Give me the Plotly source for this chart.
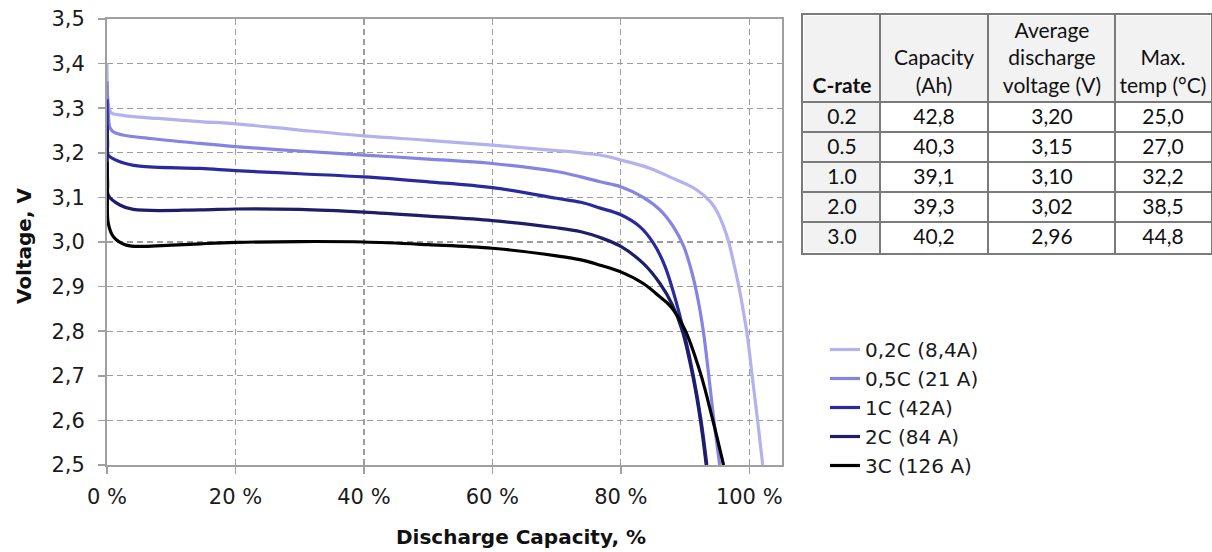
import numpy as np
import plotly.graph_objects as go

W, H = 1212, 552

# ---------------- curve data (discharge capacity %, voltage V) ----------------
x_02 = [0, 0.3, 0.7, 2, 4.1, 8, 14.5, 20, 30, 40, 50, 60, 70, 73.8, 76.8, 80, 84.6, 88.7, 90.3,
        91.9, 93.9, 95.0, 96.0, 96.8, 97.5, 98.2, 98.9, 99.7, 100.5, 101.3, 102.1]
v_02 = [3.40, 3.30, 3.289, 3.285, 3.281, 3.277, 3.270, 3.265, 3.251, 3.238, 3.228, 3.217, 3.205,
        3.200, 3.195, 3.184, 3.165, 3.139, 3.129, 3.116, 3.091, 3.068, 3.035, 3.000, 2.958,
        2.913, 2.86, 2.79, 2.695, 2.60, 2.50]

x_05 = [0, 0.2, 0.5, 1.2, 2.5, 6.7, 14.5, 20, 30, 40, 50, 60, 70, 73.8, 76.8, 80, 83.5, 86.1,
        88.2, 89.8, 91.1, 92.1, 92.9, 93.7, 94.5, 95.4]
v_05 = [3.36, 3.29, 3.255, 3.245, 3.240, 3.232, 3.221, 3.214, 3.204, 3.195, 3.186, 3.176, 3.158,
        3.146, 3.135, 3.124, 3.100, 3.072, 3.034, 2.990, 2.930, 2.865, 2.795, 2.700, 2.600, 2.500]

x_1 = [0, 0.1, 0.2, 2, 5.1, 14.5, 20, 30, 40, 50, 60, 70, 73.8, 76.8, 80, 83.0, 85.1, 86.9,
       88.5, 89.8, 91.3, 92.5, 93.4]
v_1 = [3.32, 3.22, 3.195, 3.180, 3.170, 3.165, 3.160, 3.153, 3.146, 3.135, 3.122, 3.098, 3.089,
       3.076, 3.061, 3.034, 2.997, 2.945, 2.872, 2.800, 2.700, 2.600, 2.500]

x_2 = [0, 0.1, 0.2, 2, 4.1, 14.5, 20, 30, 40, 50, 60, 70, 73.8, 76.8, 80, 83.5, 86.1, 88.0,
       89.6, 91.2, 92.4, 93.3]
v_2 = [3.26, 3.13, 3.105, 3.083, 3.073, 3.072, 3.074, 3.073, 3.067, 3.058, 3.048, 3.032, 3.023,
       3.010, 2.990, 2.952, 2.907, 2.860, 2.800, 2.700, 2.600, 2.500]

x_3 = [0, 0.05, 0.2, 1, 3, 5.7, 10, 14.5, 20, 30, 40, 50, 60, 70, 73.8, 76.8, 80, 83.5, 86.1,
       87.8, 90.0, 92.4, 94.2, 96.0]
v_3 = [3.18, 3.10, 3.042, 3.012, 2.993, 2.990, 2.993, 2.996, 2.999, 3.001, 3.000, 2.994, 2.986,
       2.969, 2.960, 2.948, 2.933, 2.907, 2.877, 2.855, 2.803, 2.706, 2.608, 2.500]

series_names = ["0,2C (8,4A)", "0,5C (21 A)", "1C (42A)", "2C (84 A)", "3C (126 A)"]
series_x = [x_02, x_05, x_1, x_2, x_3]
series_v = [v_02, v_05, v_1, v_2, v_3]
series_colors = ["#b2b2ef", "#8484e2", "#2a2a9c", "#1e1e68", "#000000"]

x_tickvals = [0, 20, 40, 60, 80, 100]
x_ticktext = ["0 %", "20 %", "40 %", "60 %", "80 %", "100 %"]

# ---------------- table data ----------------
table_header = ["<b>C-rate</b>", "Capacity<br>(Ah)", "Average<br>discharge<br>voltage (V)",
                "Max.<br>temp (°C)"]
c_rate = ["0.2", "0.5", "1.0", "2.0", "3.0"]
capacity = ["42,8", "40,3", "39,1", "39,3", "40,2"]
avg_voltage = ["3,20", "3,15", "3,10", "3,02", "2,96"]
max_temp = ["25,0", "27,0", "32,2", "38,5", "44,8"]

# table geometry (pixels)
col_widths = [77, 108, 127, 96]
row_heights = [86.5, 30.2, 30.2, 30.2, 30.2, 30.2]
col_edges = np.concatenate([[0], np.cumsum(col_widths)]).tolist()
row_edges = np.concatenate([[0], np.cumsum(row_heights)]).tolist()

NB = "\u00a0"
def pad_lines(s, n=3):
    k = s.count("<br>") + 1
    return "<br>".join([NB] * (n - k) + [s]) if k < n else s

rows_text = [[pad_lines(h) for h in table_header]]
rows_fill = [[1, 1, 1, 1]]
for a, b, c, d in zip(c_rate, capacity, avg_voltage, max_temp):
    rows_text.append([a, b, c, d])
    rows_fill.append([1, 0, 0, 0])

fig = go.Figure()

for name, xs, vs, col in zip(series_names, series_x, series_v, series_colors):
    fig.add_trace(go.Scatter(
        x=xs, y=vs, mode="lines", name=name,
        line=dict(color=col, width=3.2, shape="spline", smoothing=1.0),
        xaxis="x", yaxis="y", hoverinfo="skip"))

fig.add_trace(go.Heatmap(
    x=col_edges, y=row_edges, z=rows_fill, text=rows_text, texttemplate="%{text}",
    textfont=dict(family="Lato, Carlito, sans-serif", size=21, color="#111111"),
    colorscale=[[0, "#ffffff"], [1, "#f2f2f2"]], zmin=0, zmax=1, showscale=False,
    xgap=2, ygap=2, xaxis="x2", yaxis="y2", hoverinfo="skip"))

SANS = "DejaVu Sans, sans-serif"
TICK_FONT = dict(family=SANS, size=21, color="#1a1a1a")
LEG_FONT = dict(family=SANS, size=20, color="#1a1a1a")
TITLE_FONT = dict(family=SANS, size=20, color="#111111")
GRID = "#9c9c9c"

fig.update_layout(
    width=W, height=H,
    template="none",
    paper_bgcolor="white", plot_bgcolor="white",
    margin=dict(l=0, r=0, t=0, b=0),
    separators=", ",
    showlegend=True,
    legend=dict(x=825 / W, y=1 - 330 / H, xanchor="left", yanchor="top",
                font=LEG_FONT, bgcolor="rgba(0,0,0,0)", borderwidth=0,
                tracegroupgap=0),
    xaxis=dict(domain=[107 / W, 782 / W], range=[0, 105.1],
               tickvals=x_tickvals, ticktext=x_ticktext, tickfont=TICK_FONT,
               showgrid=True, gridcolor=GRID, gridwidth=1.3, griddash="6px,4px",
               showline=True, linecolor="#a0a0a0", linewidth=2, mirror=True,
               ticks="outside", ticklen=7, tickcolor="#a0a0a0", tickwidth=1.5,
               zeroline=False, ticklabelstandoff=5),
    yaxis=dict(domain=[(H - 465) / H, (H - 19) / H], range=[2.5, 3.5], dtick=0.1,
               tick0=2.5, tickformat=".1f", tickfont=TICK_FONT,
               showgrid=True, gridcolor=GRID, gridwidth=1.3, griddash="6px,4px",
               showline=True, linecolor="#a0a0a0", linewidth=2, mirror=True,
               ticks="outside", ticklen=7, tickcolor="#a0a0a0", tickwidth=1.5,
               zeroline=False, ticklabelstandoff=9),
    xaxis2=dict(domain=[803 / W, 1211 / W], range=[0, col_edges[-1]],
                tickvals=col_edges, showticklabels=False, ticks="",
                showgrid=True, gridcolor="#7a7a7a", gridwidth=2, zeroline=False,
                showline=True, linecolor="#7a7a7a", linewidth=2, mirror=True,
                anchor="y2", fixedrange=True),
    yaxis2=dict(domain=[1 - 252.5 / H, 1 - 15 / H], range=[row_edges[-1], 0],
                tickvals=row_edges, showticklabels=False, ticks="",
                showgrid=True, gridcolor="#7a7a7a", gridwidth=2, zeroline=False,
                showline=True, linecolor="#7a7a7a", linewidth=2, mirror=True,
                anchor="x2", fixedrange=True),
    annotations=[
        dict(text="<b>Discharge Capacity, %</b>", x=521 / W, y=1 - 537 / H,
             xref="paper", yref="paper", xanchor="center", yanchor="middle",
             showarrow=False, font=TITLE_FONT),
        dict(text="<b>Voltage, V</b>", x=24 / W, y=1 - 246 / H, textangle=-90,
             xref="paper", yref="paper", xanchor="center", yanchor="middle",
             showarrow=False, font=TITLE_FONT),
        dict(text="*Courtesy of Sony LIB", x=886 / W, y=1 - 544 / H,
             xref="paper", yref="paper", xanchor="left", yanchor="top",
             showarrow=False, font=dict(family="Lato, sans-serif", size=22,
                                        color="#111111")),
    ],
)

fig.write_html("out.html",
               config={"displayModeBar": False, "staticPlot": True},
               post_script="document.body.style.margin='0px';"
                           "document.body.style.overflow='hidden';")
